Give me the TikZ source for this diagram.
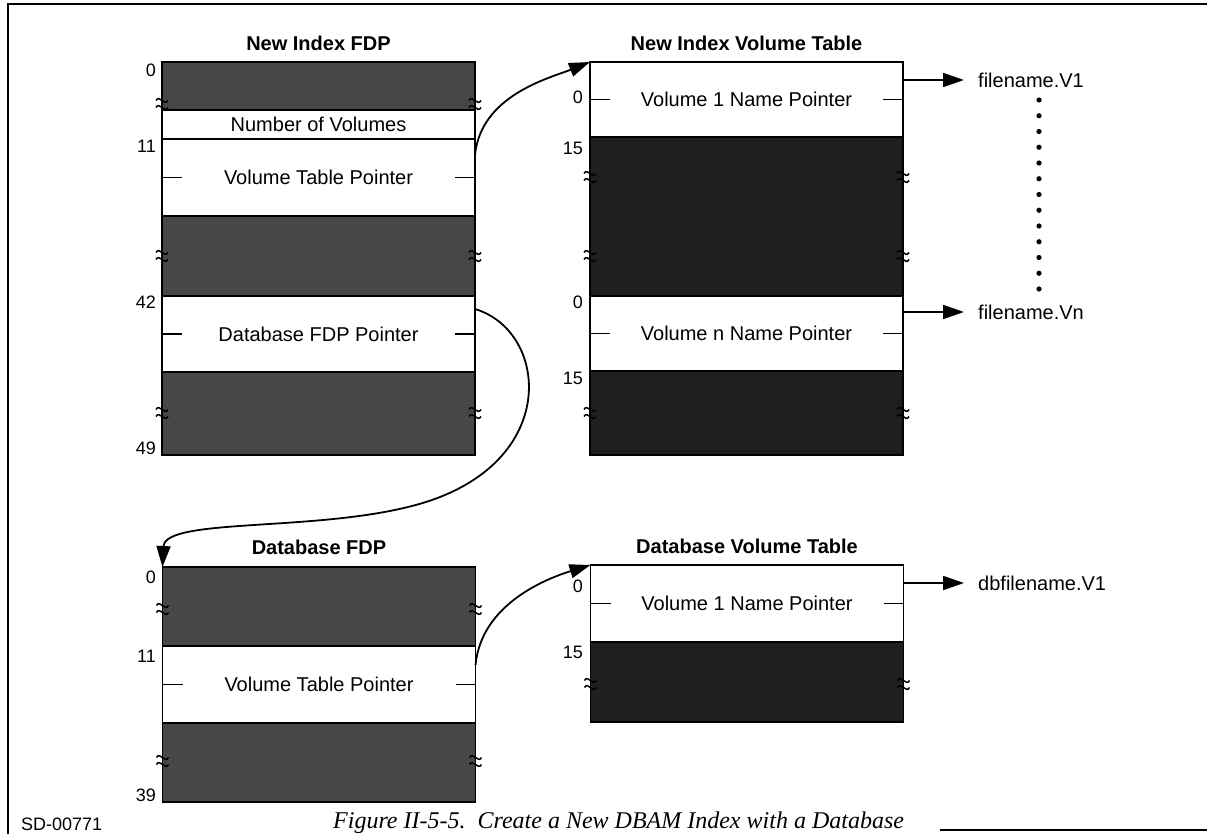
\documentclass[tikz,border=0pt]{standalone}
\usepackage{fontspec}
\setmainfont{Liberation Sans}
\newfontfamily\capfont{Liberation Serif}
\usetikzlibrary{arrows.meta,positioning}

\begin{document}
\begin{tikzpicture}[x=1pt,y=-1pt,
    field/.style={draw,line width=1.8pt,minimum width=313pt,inner sep=0pt,outer sep=0pt,
      anchor=north,font=\fontsize{20}{24}\selectfont},
    fdpgray/.style={field,fill=black!72},
    tblgray/.style={field,fill=black!88},
    blank/.style={field,fill=white},
    title/.style={font=\fontsize{20}{24}\selectfont\bfseries,inner sep=0pt},
    offset/.style={font=\fontsize{18}{21}\selectfont,anchor=east,inner sep=0pt},
    fname/.style={font=\fontsize{20}{24}\selectfont,anchor=west,inner sep=0pt},
    link/.style={line width=1.8pt,-{Triangle[length=21pt,width=14pt]}},
    tick/.style={line width=1.8pt},
    brk/.pic={
      \draw[line width=1.5pt] (-6,-2.5) .. controls (-2.5,-9) and (2.5,4) .. (6,-2.5);
      \draw[line width=1.5pt] (-6,4.5) .. controls (-2.5,-2) and (2.5,11) .. (6,4.5);
    }]
  \useasboundingbox (0,0) rectangle (1207,834);

  % Frame
  \draw[line width=1.8pt] (8,834) -- (8,4) -- (1207,4);
  \draw[line width=1.8pt] (940,830) -- (1207,830);

  % New Index FDP
  \node[fdpgray,minimum height=48pt] (a0) at (318.5,62) {};
  \node[blank,minimum height=29pt,below=0pt of a0] (a1) {Number of Volumes};
  \node[blank,minimum height=77pt,below=0pt of a1] (a2) {Volume Table Pointer};
  \node[fdpgray,minimum height=80pt,below=0pt of a2] (a3) {};
  \node[blank,minimum height=76pt,below=0pt of a3] (a4) {Database FDP Pointer};
  \node[fdpgray,minimum height=83pt,below=0pt of a4] (a5) {};
  \node[title,above=11pt of a0] (ta) {New Index FDP};

  % New Index Volume Table
  \node[blank,minimum height=75pt] (b0) at (746.5,62) {Volume 1 Name Pointer};
  \node[tblgray,minimum height=159pt,below=0pt of b0] (b1) {};
  \node[blank,minimum height=75pt,below=0pt of b1] (b2) {Volume n Name Pointer};
  \node[tblgray,minimum height=84pt,below=0pt of b2] (b3) {};
  \node[title,above=11pt of b0] (tb) {New Index Volume Table};

  % Database FDP
  \node[fdpgray,minimum height=79pt] (c0) at (319,567) {};
  \node[blank,minimum height=77pt,below=0pt of c0] (c1) {Volume Table Pointer};
  \node[fdpgray,minimum height=79pt,below=0pt of c1] (c2) {};
  \node[title,above=12pt of c0] (tc) {Database FDP};

  % Database Volume Table
  \node[blank,minimum height=77pt] (d0) at (747,565) {Volume 1 Name Pointer};
  \node[tblgray,minimum height=80pt,below=0pt of d0] (d1) {};
  \node[title,above=11pt of d0] (td) {Database Volume Table};

  % Ticks on pointer fields
  \foreach \f in {a2,a4,b0,b2,c1,d0} {
    \draw[tick] (\f.west) -- ++(20,0);
    \draw[tick] (\f.east) -- ++(-20,0);
  }

  % Breaks
  \foreach \y in {103,255,412} {
    \pic at (162,\y) {brk};
    \pic at (475,\y) {brk};
  }
  \foreach \y in {176,255,412} {
    \pic at (590,\y) {brk};
    \pic at (903,\y) {brk};
  }
  \foreach \y in {608,760} {
    \pic at (162.5,\y) {brk};
    \pic at (475.5,\y) {brk};
  }
  \pic at (590.5,683) {brk};
  \pic at (903.5,683) {brk};

  % Offsets
  \node[offset] (oa0) at (156,70) {0};
  \node[offset] (oa1) at (156,146) {11};
  \node[offset] (oa4) at (156,302) {42};
  \node[offset] (oa5) at (156,448) {49};
  \node[offset] (ob0) at (583,97) {0};
  \node[offset] (ob1) at (583,148) {15};
  \node[offset] (ob2) at (583,302) {0};
  \node[offset] (ob3) at (583,378) {15};
  \node[offset] (oc0) at (156,577) {0};
  \node[offset] (oc1) at (156,656) {11};
  \node[offset] (oc2) at (156,795) {39};
  \node[offset] (od0) at (583,586) {0};
  \node[offset] (od1) at (583,652) {15};

  % File names
  \node[fname] (fn1) at (978,80) {filename.V1};
  \node[fname] (fnn) at (978,312) {filename.Vn};
  \node[fname] (fdb) at (978,583) {dbfilename.V1};
  \draw[link] (b0.east |- fn1.west) -- ([xshift=-14pt]fn1.west);
  \draw[link] (b2.east |- fnn.west) -- ([xshift=-14pt]fnn.west);
  \draw[link] (d0.east |- fdb.west) -- ([xshift=-14pt]fdb.west);
  \foreach \i in {0,...,12}
    \fill (1039,{100+15.75*\i}) circle (2.6);

  % Pointer curves
  \draw[link] ([yshift=-16pt]a2.north east) .. controls +(6,-60) and +(-40,16) .. (b0.north west);
  \draw[link] ([yshift=-19pt]c1.north east) .. controls +(6,-62) and +(-42,13) .. (d0.north west);
  \coordinate (turn) at (440,497);
  \draw[link] ([yshift=-13pt]a4.north east) .. controls (545,330) and (560,450) .. (turn)
    .. controls (344,535) and (165,515) .. (c0.north west);

  % Caption
  \node[anchor=base west,inner sep=0pt,font=\fontsize{18}{21}\selectfont] (sd) at (21,830) {SD-00771};
  \node[anchor=base west,inner sep=0pt,font=\capfont\itshape\fontsize{24}{28}\selectfont] (cap)
    at (333,828) {Figure II-5-5.\ \ Create a New DBAM Index with a Database};
\end{tikzpicture}
\end{document}
